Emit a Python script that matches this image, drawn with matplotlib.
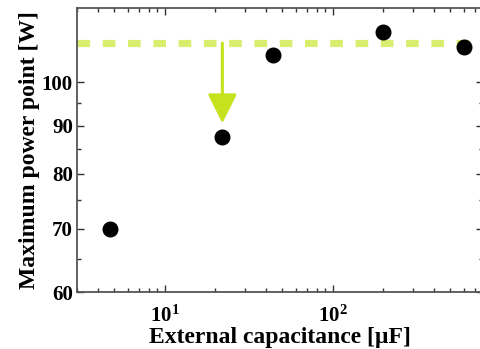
import matplotlib
matplotlib.use("Agg")
import matplotlib.pyplot as plt
from matplotlib.ticker import FixedLocator, NullFormatter, LogLocator

capacitance = [4.7, 22, 44, 200, 600]
power = [70.0, 87.6, 106.9, 113.0, 109.0]
reference_power = 110.0
arrow_x = 22
arrow_tip = 90.5
y_major = [60, 70, 80, 90, 100]
y_minor = [65, 75, 85, 95]

plt.rcParams['font.family'] = ['Liberation Serif', 'DejaVu Serif']
plt.rcParams['font.weight'] = 'bold'
plt.rcParams['mathtext.fontset'] = 'custom'
plt.rcParams['mathtext.rm'] = 'Liberation Serif:bold'
plt.rcParams['mathtext.bf'] = 'Liberation Serif:bold'
plt.rcParams['mathtext.it'] = 'Liberation Serif:bold'

fig = plt.figure(figsize=(4.81, 3.49), dpi=100)
W, H = 481, 349
left, right, top, bottom = 77, 482.7, 7.5, 292
ax = fig.add_axes([left / W, 1 - bottom / H, (right - left) / W, (bottom - top) / H])

ax.set_xscale('log')
ax.set_yscale('log')
ax.set_xlim(3, 780)
ax.set_ylim(60, 120)

ax.axhline(reference_power, color='#d9ee6e', lw=5.2, linestyle=(0, (1.75, 1.75)),
           dash_capstyle='butt', zorder=1)
ax.annotate('', xy=(arrow_x, arrow_tip), xytext=(arrow_x, reference_power),
            arrowprops=dict(arrowstyle='-|>,head_length=1.8,head_width=0.9',
                            color='#c6e21e', lw=2.2, shrinkA=0, shrinkB=0),
            zorder=2)
ax.plot(capacitance, power, 'o', color='black', ms=10.5, zorder=3, clip_on=False)

ax.yaxis.set_major_locator(FixedLocator(y_major))
ax.yaxis.set_minor_locator(FixedLocator(y_minor))
ax.yaxis.set_major_formatter(matplotlib.ticker.FixedFormatter([str(v) for v in y_major]))
ax.yaxis.set_minor_formatter(NullFormatter())
ax.xaxis.set_major_locator(LogLocator(base=10))
ax.xaxis.set_minor_locator(LogLocator(base=10, subs=range(2, 10)))
ax.xaxis.set_minor_formatter(NullFormatter())

for s in ax.spines.values():
    s.set_color('#555555')
    s.set_linewidth(1.3)

ax.tick_params(which='both', direction='in', top=True, right=True, color='#333333',
               labelsize=15)
ax.tick_params(axis='y', pad=3)
ax.tick_params(axis='x', pad=10)
ax.tick_params(which='major', length=5, width=1)
ax.tick_params(which='minor', length=3, width=1)

ax.set_xlabel('External capacitance [µF]', fontsize=17, fontweight='bold', labelpad=0)
ax.set_ylabel('Maximum power point [W]', fontsize=17, fontweight='bold', labelpad=1)

fig.savefig('out.png', dpi=100)
